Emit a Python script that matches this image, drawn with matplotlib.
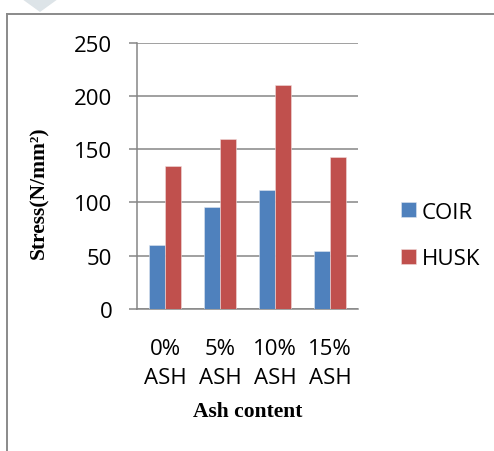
import numpy as np
import matplotlib.pyplot as plt
from matplotlib.lines import Line2D
from matplotlib.patches import Polygon

categories = ['0%\nASH', '5%\nASH', '10%\nASH', '15%\nASH']
coir = [60, 96, 112, 54]
husk = [134, 160, 210, 143]
y_ticks = [0, 50, 100, 150, 200, 250]

blue = '#4F81BD'
red = '#C0504D'
grey = '#868686'

fig = plt.figure(figsize=(4.94, 4.52), dpi=100)
ax = fig.add_axes([0.2783, 0.3142, 0.4458, 0.5891])

x = np.arange(len(categories))
w = 0.29
ax.bar(x - w / 2, coir, w, color=blue, edgecolor='#dfe6f0', linewidth=0.4, label='COIR', zorder=3)
ax.bar(x + w / 2, husk, w, color=red, edgecolor='#f0dcdc', linewidth=0.4, label='HUSK', zorder=3)

ax.set_xlim(-0.5, len(categories) - 0.5)
ax.set_ylim(0, 250)
ax.set_yticks(y_ticks)
ax.set_xticks(x)
ax.set_xticklabels(categories, fontsize=16, family='Open Sans', linespacing=1.5)
ax.tick_params(axis='y', labelsize=16, length=6, width=1.1, color=grey, pad=12)
ax.tick_params(axis='x', length=0, pad=21)
for lab in ax.get_yticklabels():
    lab.set_family('Open Sans')

ax.grid(axis='y', color=grey, linewidth=1.1, zorder=0)
for side in ['top', 'right']:
    ax.spines[side].set_visible(False)
for side in ['left', 'bottom']:
    ax.spines[side].set_color(grey)
    ax.spines[side].set_linewidth(1.1)

ax.set_ylabel('Stress(N/mm²)', family='Liberation Serif', fontweight='bold', fontsize=15.5, va='center')
ax.yaxis.set_label_coords(-0.447, 0.44)
ax.set_xlabel('Ash content', family='Liberation Serif', fontweight='bold', fontsize=15.5, va='center')
ax.xaxis.set_label_coords(0.5, -0.383)

leg = ax.legend(loc='center left', bbox_to_anchor=(400.7 / 494, 1 - 236.3 / 452),
                bbox_transform=fig.transFigure, frameon=False, borderpad=0, borderaxespad=0,
                prop={'family': 'Open Sans', 'size': 16}, handlelength=0.68, handleheight=0.68,
                handletextpad=0.27, labelspacing=1.15)

# outer frame of the chart area
fig.add_artist(Line2D([6.5 / 494, 6.5 / 494], [0, 1 - 14.5 / 452], color='#8a8a8a', linewidth=1.4))
fig.add_artist(Line2D([6.5 / 494, 1], [1 - 14.5 / 452, 1 - 14.5 / 452], color='#8a8a8a', linewidth=1.4))
fig.add_artist(Polygon([[22 / 494, 1], [58 / 494, 1], [40 / 494, 1 - 13 / 452]], closed=True,
                       transform=fig.transFigure, facecolor='#dde4e8', edgecolor='none'))

fig.savefig('out.png', dpi=100)
